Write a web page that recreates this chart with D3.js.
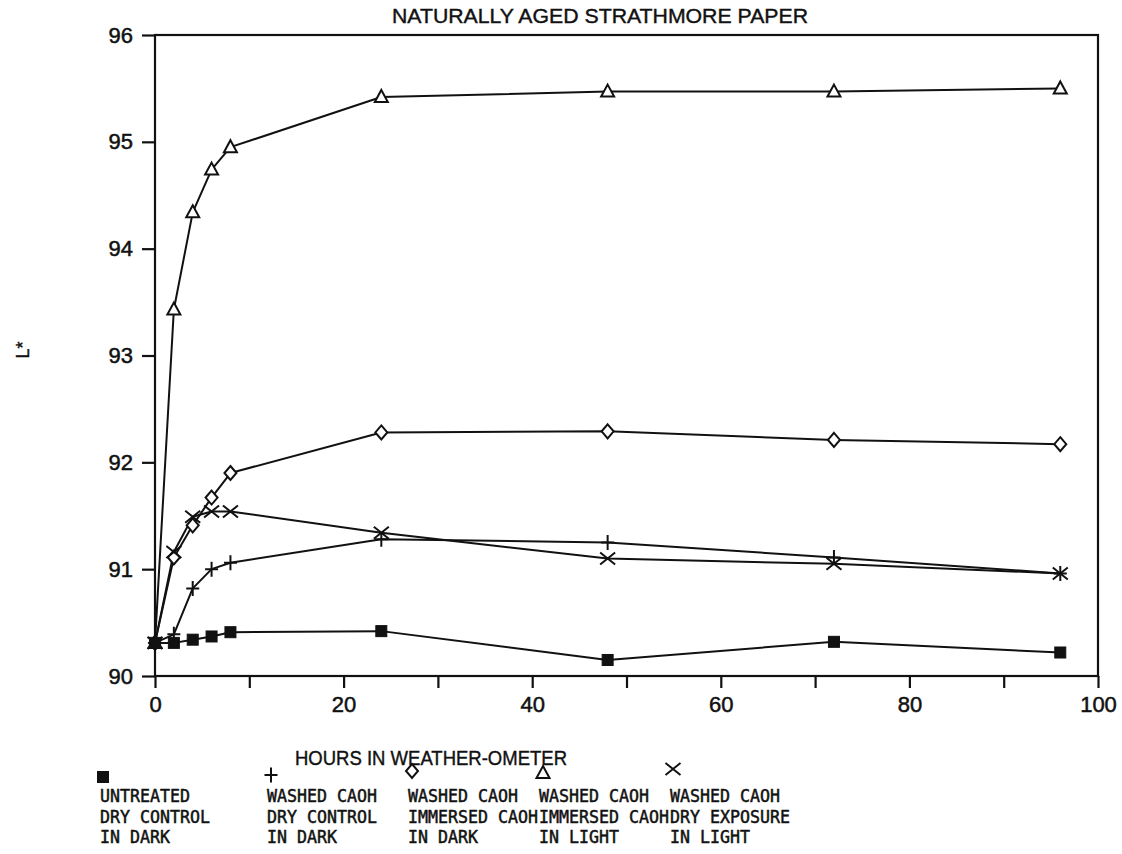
<!DOCTYPE html>
<html>
<head>
<meta charset="utf-8">
<script src="https://cdn.jsdelivr.net/npm/d3@7"></script>
<style>
  html, body { margin: 0; padding: 0; background: #fff; }
  svg { display: block; }
</style>
</head>
<body>
<svg id="chart" width="1122" height="854"></svg>
<script>
// ---------- data ----------
const hours = [0, 2, 4, 6, 8, 24, 48, 72, 96];
const untreatedDryDark   = [90.31, 90.31, 90.34, 90.37, 90.41, 90.42, 90.15, 90.32, 90.22];
const washedDryDark      = [90.31, 90.39, 90.82, 91.00, 91.06, 91.28, 91.25, 91.11, 90.96];
const washedImmersedDark = [90.31, 91.11, 91.41, 91.67, 91.90, 92.28, 92.29, 92.21, 92.17];
const washedImmersedLight= [90.31, 93.43, 94.34, 94.74, 94.95, 95.42, 95.47, 95.47, 95.50];
const washedDryLight     = [90.31, 91.16, 91.49, 91.54, 91.54, 91.34, 91.10, 91.05, 90.96];

const xTicks = [0, 10, 20, 30, 40, 50, 60, 70, 80, 90, 100];
const xTickLabels = [0, 20, 40, 60, 80, 100];
const yTicks = [90, 91, 92, 93, 94, 95, 96];

const titleText = "NATURALLY AGED STRATHMORE PAPER";
const xTitle = "HOURS IN WEATHER-OMETER";
const yTitle = "L*";

const legendLines = [
  ["UNTREATED", "DRY CONTROL", "IN DARK"],
  ["WASHED CAOH", "DRY CONTROL", "IN DARK"],
  ["WASHED CAOH", "IMMERSED CAOH", "IN DARK"],
  ["WASHED CAOH", "IMMERSED CAOH", "IN LIGHT"],
  ["WASHED CAOH", "DRY EXPOSURE", "IN LIGHT"]
];

// ---------- setup ----------
const svg = d3.select("#chart");
const x = d3.scaleLinear().domain([0, 100]).range([155, 1098]);
const y = d3.scaleLinear().domain([90, 96]).range([676, 35]);

const ink = "#111";
const sans = "'Liberation Sans', Arial, sans-serif";

const series = [
  { name: "light", values: washedImmersedLight, marker: "triangle" },
  { name: "immDark", values: washedImmersedDark, marker: "diamond" },
  { name: "dryLight", values: washedDryLight, marker: "cross" },
  { name: "dryDark", values: washedDryDark, marker: "plus" },
  { name: "untreated", values: untreatedDryDark, marker: "square" }
];

function drawMarker(g, type, cx, cy) {
  if (type === "square") {
    g.append("rect").attr("x", cx - 5.5).attr("y", cy - 5.5).attr("width", 11).attr("height", 11)
      .attr("fill", ink).attr("stroke", ink).attr("stroke-width", 1);
  } else if (type === "triangle") {
    g.append("path").attr("d", `M${cx},${cy - 7} L${cx + 6.5},${cy + 5} L${cx - 6.5},${cy + 5} Z`)
      .attr("fill", "#fff").attr("stroke", ink).attr("stroke-width", 2);
  } else if (type === "diamond") {
    g.append("path").attr("d", `M${cx},${cy - 7} L${cx + 6},${cy} L${cx},${cy + 7} L${cx - 6},${cy} Z`)
      .attr("fill", "#fff").attr("stroke", ink).attr("stroke-width", 2);
  } else if (type === "plus") {
    g.append("path").attr("d", `M${cx - 6.5},${cy} H${cx + 6.5} M${cx},${cy - 7.5} V${cy + 7.5}`)
      .attr("fill", "none").attr("stroke", ink).attr("stroke-width", 2);
  } else if (type === "cross") {
    g.append("path").attr("d", `M${cx - 7.5},${cy - 6} L${cx + 7.5},${cy + 6} M${cx - 7.5},${cy + 6} L${cx + 7.5},${cy - 6}`)
      .attr("fill", "none").attr("stroke", ink).attr("stroke-width", 2);
  }
}

// ---------- frame ----------
svg.append("rect")
  .attr("x", x(0)).attr("y", y(96))
  .attr("width", x(100) - x(0)).attr("height", y(90) - y(96))
  .attr("fill", "none").attr("stroke", ink).attr("stroke-width", 2.2);

// ---------- axes ----------
const yAxis = d3.axisLeft(y).tickValues(yTicks).tickSize(13).tickPadding(9).tickFormat(d3.format("d"));
const gy = svg.append("g").attr("transform", `translate(${x(0)},0)`).call(yAxis);
gy.select(".domain").remove();
gy.selectAll(".tick line").attr("stroke", ink).attr("stroke-width", 2.2);
gy.selectAll(".tick text").attr("fill", ink).attr("stroke", ink).attr("stroke-width", 0.5)
  .style("font-family", sans).style("font-size", "22px");

const xAxis = d3.axisBottom(x).tickValues(xTicks).tickSize(12).tickPadding(8)
  .tickFormat(d => xTickLabels.includes(d) ? d3.format("d")(d) : "");
const gx = svg.append("g").attr("transform", `translate(0,${y(90)})`).call(xAxis);
gx.select(".domain").remove();
gx.selectAll(".tick line").attr("stroke", ink).attr("stroke-width", 2.2);
gx.selectAll(".tick text").attr("fill", ink).attr("stroke", ink).attr("stroke-width", 0.5)
  .style("font-family", sans).style("font-size", "22px");

// ---------- lines ----------
const line = d3.line().x((d, i) => x(hours[i])).y(d => y(d));
series.forEach(s => {
  svg.append("path").datum(s.values)
    .attr("d", line).attr("fill", "none").attr("stroke", ink).attr("stroke-width", 2)
    .attr("stroke-linejoin", "round");
});
series.forEach(s => {
  const g = svg.append("g");
  s.values.forEach((v, i) => drawMarker(g, s.marker, x(hours[i]), y(v)));
});

// ---------- titles ----------
svg.append("text").attr("x", 392).attr("y", 23)
  .attr("textLength", 416).attr("lengthAdjust", "spacingAndGlyphs")
  .attr("stroke", ink).attr("stroke-width", 0.4)
  .style("font-family", sans).style("font-size", "20px").attr("fill", ink)
  .text(titleText);

svg.append("text").attr("x", 295).attr("y", 765)
  .attr("textLength", 272).attr("lengthAdjust", "spacingAndGlyphs")
  .attr("stroke", ink).attr("stroke-width", 0.4)
  .style("font-family", sans).style("font-size", "20px").attr("fill", ink)
  .text(xTitle);

svg.append("text").attr("transform", "translate(29,350) rotate(-90)").attr("text-anchor", "middle")
  .attr("stroke", ink).attr("stroke-width", 0.4)
  .style("font-family", sans).style("font-size", "18px").attr("fill", ink)
  .text(yTitle);

// ---------- legend ----------
const legendX = [100, 267, 408, 539, 670];
const legendMarkerX = [103, 271, 412, 543, 673];
const legendMarkerY = [777, 775, 771, 773, 769];
const legendMarkers = ["square", "plus", "diamond", "triangle", "cross"];
const lg = svg.append("g");
legendLines.forEach((lines, i) => {
  drawMarker(lg, legendMarkers[i], legendMarkerX[i], legendMarkerY[i]);
  lines.forEach((t, j) => {
    lg.append("text").attr("x", legendX[i]).attr("y", 802 + j * 20.5)
      .attr("textLength", t.length * 10).attr("lengthAdjust", "spacingAndGlyphs")
      .attr("stroke", ink).attr("stroke-width", 0.5)
      .style("font-family", "'DejaVu Sans Mono', monospace").style("font-size", "18px")
      .attr("fill", ink).text(t);
  });
});
</script>
</body>
</html>
